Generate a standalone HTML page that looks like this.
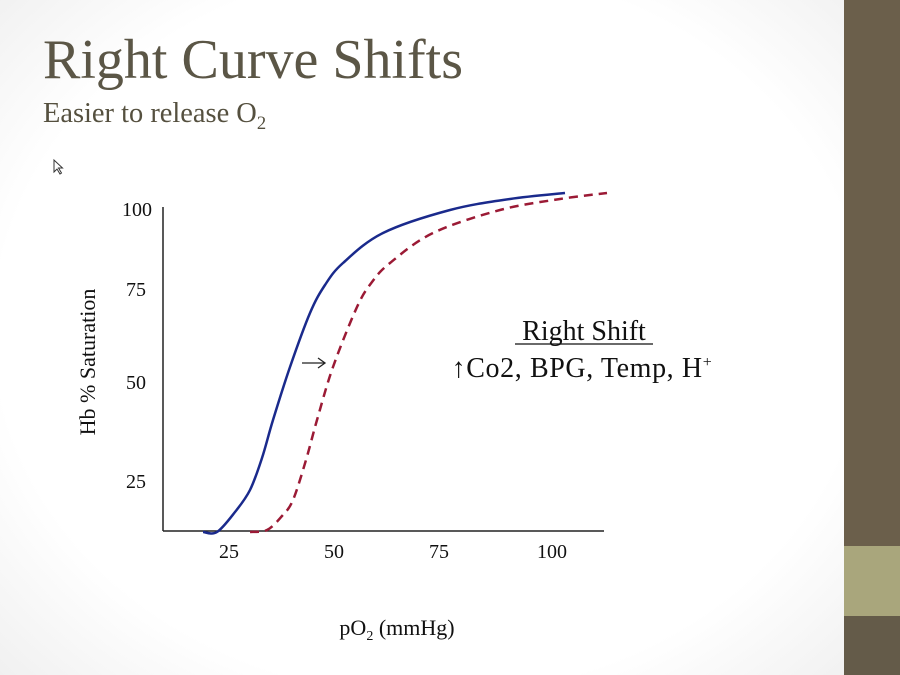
<!DOCTYPE html>
<html><head><meta charset="utf-8"><style>
html,body{margin:0;padding:0}
body{width:900px;height:675px;position:relative;overflow:hidden;font-family:"Liberation Serif",serif;
background:radial-gradient(ellipse 620px 520px at 430px 330px,#ffffff 70%,#eeeeee 100%);}
.side{position:absolute;left:844px;top:0;width:56px;height:675px;background:#6b5f4b}
.blk{position:absolute;left:844px;top:546px;width:56px;height:70px;background:#a9a67c}
.blk2{position:absolute;left:844px;top:616px;width:56px;height:59px;background:#645b49}
.t{position:absolute;color:#5b5646;white-space:nowrap;transform-origin:left top}
</style></head><body>
<div class="side"></div><div class="blk"></div><div class="blk2"></div>
<div class="t" style="left:43px;top:28px;font-size:56px;transform:scaleX(1.0)">Right Curve Shifts</div>
<div class="t" style="left:43px;top:97px;font-size:29px;transform:scaleX(0.98);color:#55503f">Easier to release O<sub style="font-size:19px">2</sub></div>
<svg width="900" height="675" style="position:absolute;left:0;top:0">
<g font-family="Liberation Serif,serif" font-size="20" fill="#111">
<path d="M54 160 l0 12 l3 -3 l3 5 l1.5 -1 l-3 -5 l4 0 z" fill="#fff" stroke="#333" stroke-width="1"/>
<line x1="163" y1="207" x2="163" y2="531" stroke="#222" stroke-width="1.5"/>
<line x1="163" y1="531" x2="604" y2="531" stroke="#222" stroke-width="1.5"/>
<text x="152" y="216" text-anchor="end">100</text>
<text x="146" y="296" text-anchor="end">75</text>
<text x="146" y="389" text-anchor="end">50</text>
<text x="146" y="488" text-anchor="end">25</text>
<text x="229" y="558" text-anchor="middle">25</text>
<text x="334" y="558" text-anchor="middle">50</text>
<text x="439" y="558" text-anchor="middle">75</text>
<text x="552" y="558" text-anchor="middle">100</text>
<text x="397" y="635" text-anchor="middle" font-size="22">pO<tspan font-size="14" dy="5">2</tspan><tspan dy="-5"> (mmHg)</tspan></text>
<text transform="translate(95,362) rotate(-90)" text-anchor="middle" font-size="22">Hb % Saturation</text>
<text x="584" y="340" text-anchor="middle" font-size="28">Right Shift</text>
<line x1="515" y1="344" x2="653" y2="344" stroke="#111" stroke-width="1.3"/>
<text x="582" y="377" text-anchor="middle" font-size="28" letter-spacing="0.6">↑Co2, BPG, Temp, H<tspan font-size="16" dy="-10">+</tspan></text>
<line x1="302" y1="363" x2="324" y2="363" stroke="#222" stroke-width="1.3"/>
<path d="M318 358 L325 363 L318 368" fill="none" stroke="#222" stroke-width="1.3"/>
</g>
<path id="b" fill="none" stroke="#1a2a8c" stroke-width="2.5"/>
<path id="r" fill="none" stroke="#9b1a35" stroke-width="2.5" stroke-dasharray="9,6"/>
</svg>
<script>
function cr(p){let d="M"+p[0][0]+" "+p[0][1];for(let i=0;i<p.length-1;i++){const a=p[Math.max(0,i-1)],b=p[i],c=p[i+1],e=p[Math.min(p.length-1,i+2)];
const c1=[b[0]+(c[0]-a[0])/6,b[1]+(c[1]-a[1])/6],c2=[c[0]-(e[0]-b[0])/6,c[1]-(e[1]-b[1])/6];
d+=" C"+c1.join(" ")+" "+c2.join(" ")+" "+c.join(" ");}return d;}
document.getElementById("b").setAttribute("d",cr([[203,532],[217,532],[235,512],[250,490],[262,458],[273,420],[290,367],[310,313],[325,285],[343,263],[383,233],[450,210],[510,199],[565,193]]));
document.getElementById("r").setAttribute("d",cr([[250,532],[267,530],[282,516],[293,500],[306,460],[317,420],[333,367],[357,307],[372,282],[390,263],[433,233],[500,210],[560,199],[607,193]]));
</script>
</body></html>
